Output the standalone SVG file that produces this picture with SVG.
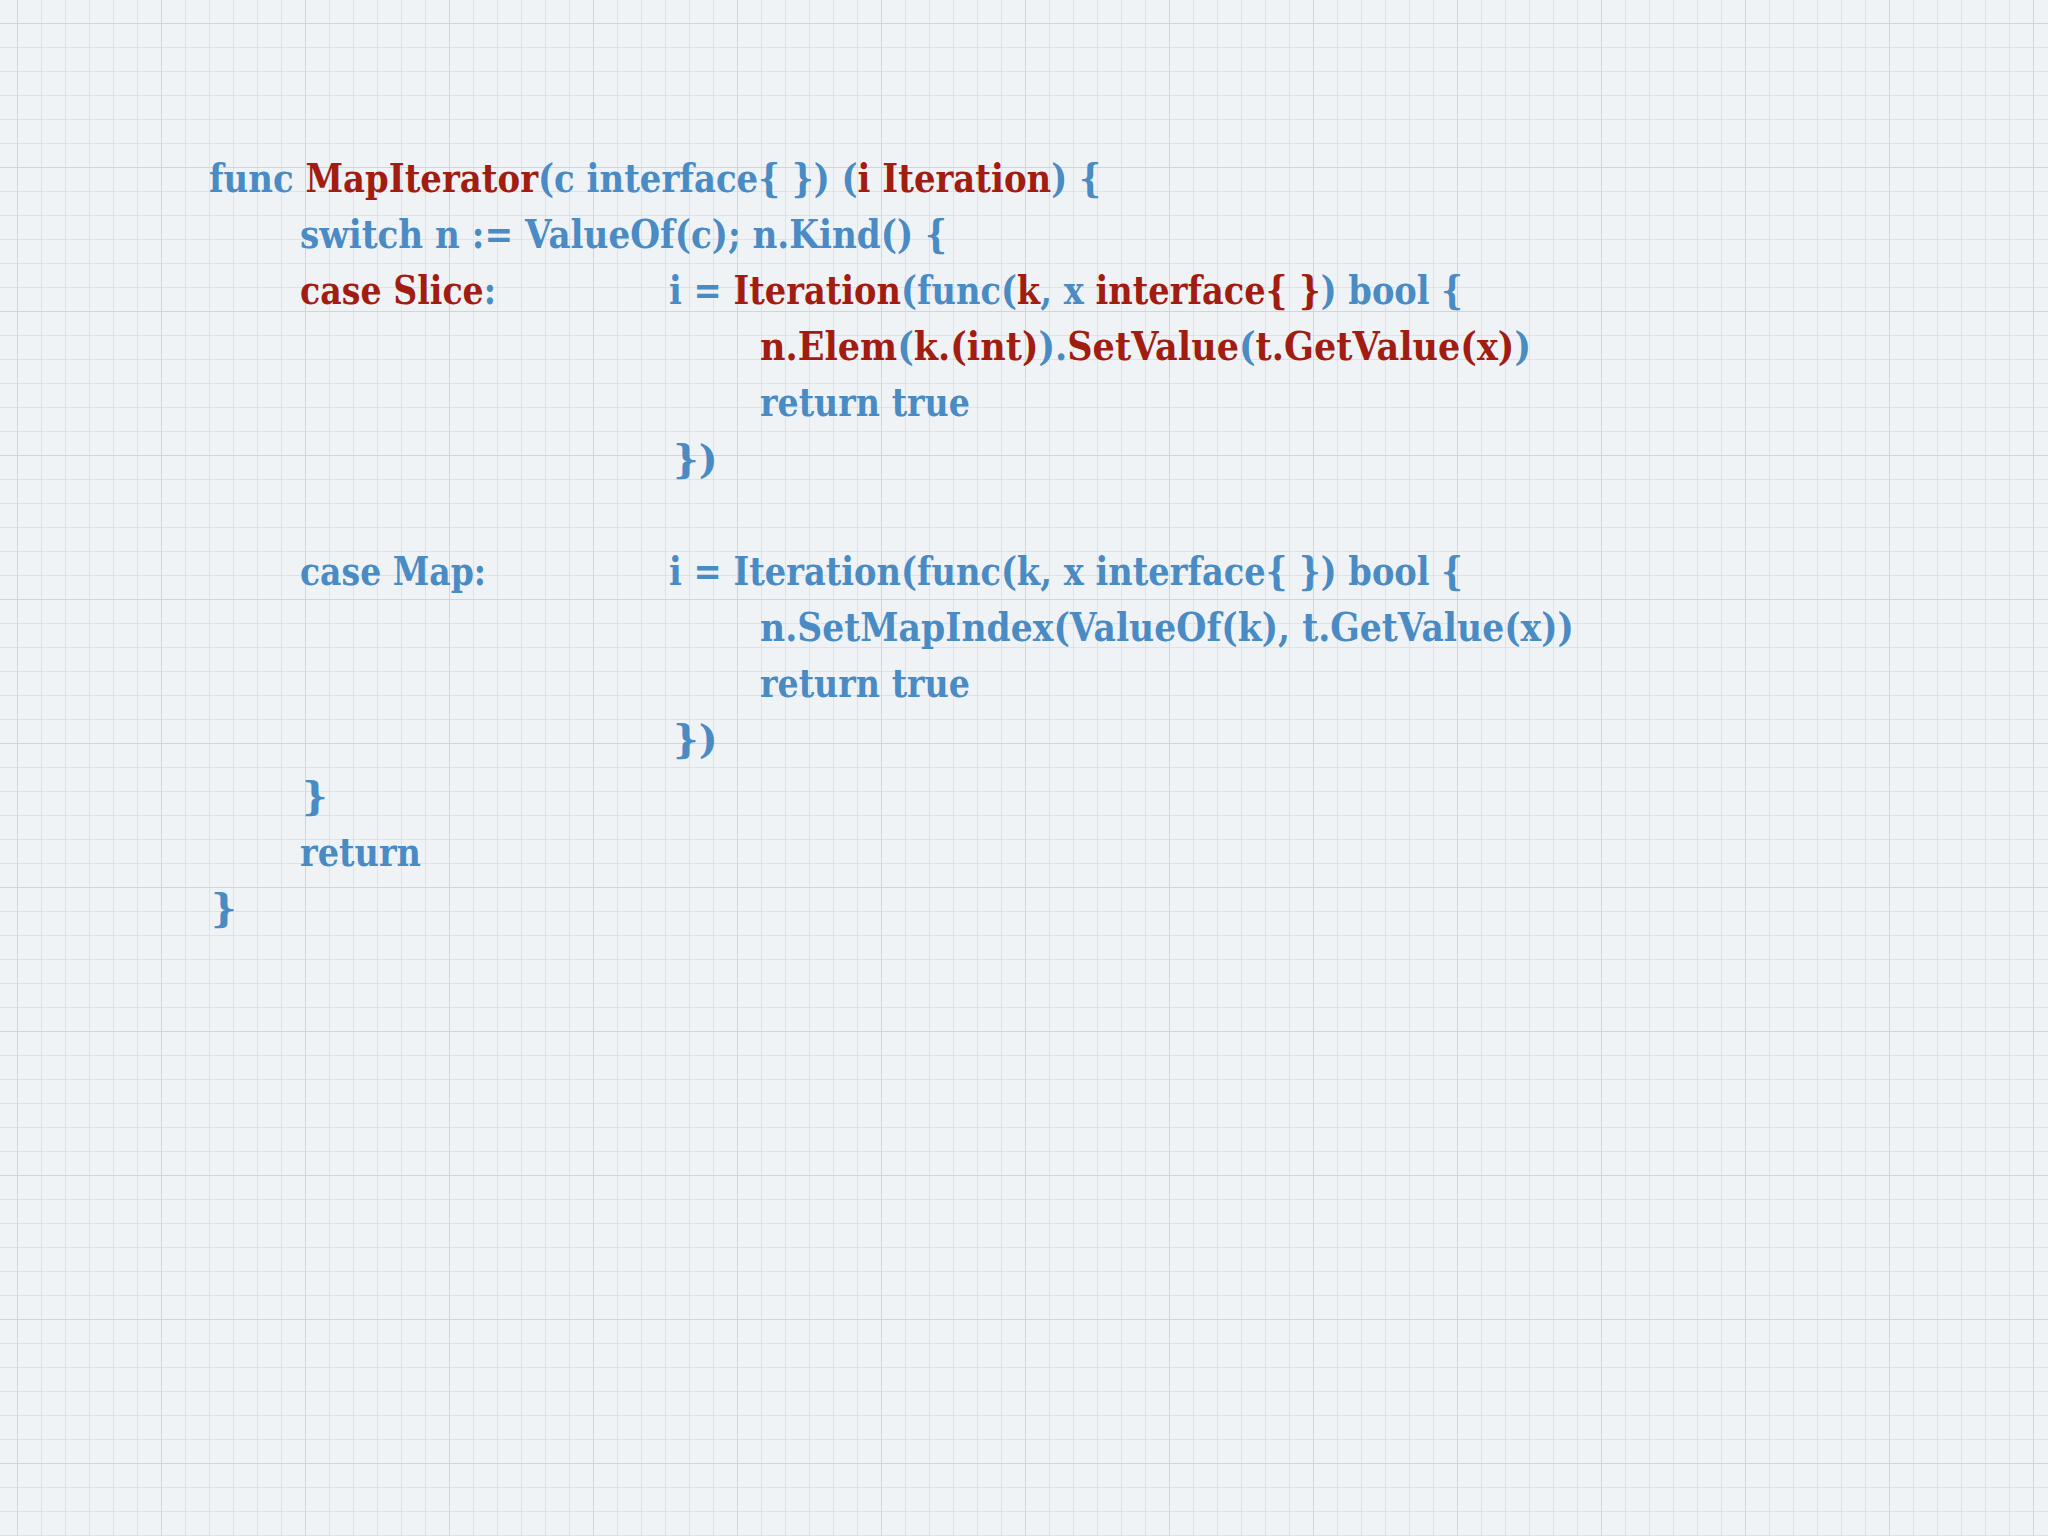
<svg xmlns="http://www.w3.org/2000/svg" width="2048" height="1536" viewBox="0 0 2048 1536">
<defs>
<pattern id="grid" x="17" y="23" width="24" height="24" patternUnits="userSpaceOnUse">
<path d="M0 0H24M0 0V24" fill="none" stroke="#d6e0e6" stroke-width="1.5"/>
</pattern>
<pattern id="grid5" x="17" y="23" width="144" height="144" patternUnits="userSpaceOnUse">
<path d="M0 0H144M0 0V144" fill="none" stroke="#cbd7de" stroke-width="2"/>
</pattern>
</defs>
<style>
text{font-family:"DejaVu Serif","Liberation Serif",serif;font-weight:bold;font-size:40px;fill:#4a8bc4}
.r{fill:#a11d12}
</style>
<rect width="2048" height="1536" fill="#eff3f5"/>
<rect width="2048" height="1536" fill="url(#grid)"/>
<rect width="2048" height="1536" fill="url(#grid5)"/>
<g id="code">
<text x="209" y="192" textLength="892" lengthAdjust="spacingAndGlyphs">func <tspan class="r">MapIterator</tspan>(c interface{ }) (<tspan class="r">i Iteration</tspan>) {</text>
<text x="300" y="248" textLength="647" lengthAdjust="spacingAndGlyphs">switch n := ValueOf(c); n.Kind() {</text>
<text x="300" y="304" textLength="196" lengthAdjust="spacingAndGlyphs"><tspan class="r">case Slice</tspan>:</text>
<text x="669" y="304" textLength="794" lengthAdjust="spacingAndGlyphs">i = <tspan class="r">Iteration</tspan>(func(<tspan class="r">k</tspan>, x <tspan class="r">interface{ }</tspan>) bool {</text>
<text x="760" y="360" textLength="771" lengthAdjust="spacingAndGlyphs"><tspan class="r">n.Elem</tspan>(<tspan class="r">k.(int)</tspan>).<tspan class="r">SetValue</tspan>(<tspan class="r">t.GetValue(x)</tspan>)</text>
<text x="760" y="416" textLength="210" lengthAdjust="spacingAndGlyphs">return true</text>
<text x="673" y="473">})</text>
<text x="300" y="585" textLength="186" lengthAdjust="spacingAndGlyphs">case Map:</text>
<text x="669" y="585" textLength="794" lengthAdjust="spacingAndGlyphs">i = Iteration(func(k, x interface{ }) bool {</text>
<text x="760" y="641" textLength="814" lengthAdjust="spacingAndGlyphs">n.SetMapIndex(ValueOf(k), t.GetValue(x))</text>
<text x="760" y="697" textLength="210" lengthAdjust="spacingAndGlyphs">return true</text>
<text x="673" y="753">})</text>
<text x="302" y="810">}</text>
<text x="300" y="866" textLength="121" lengthAdjust="spacingAndGlyphs">return</text>
<text x="211" y="922">}</text>
</g>
</svg>
